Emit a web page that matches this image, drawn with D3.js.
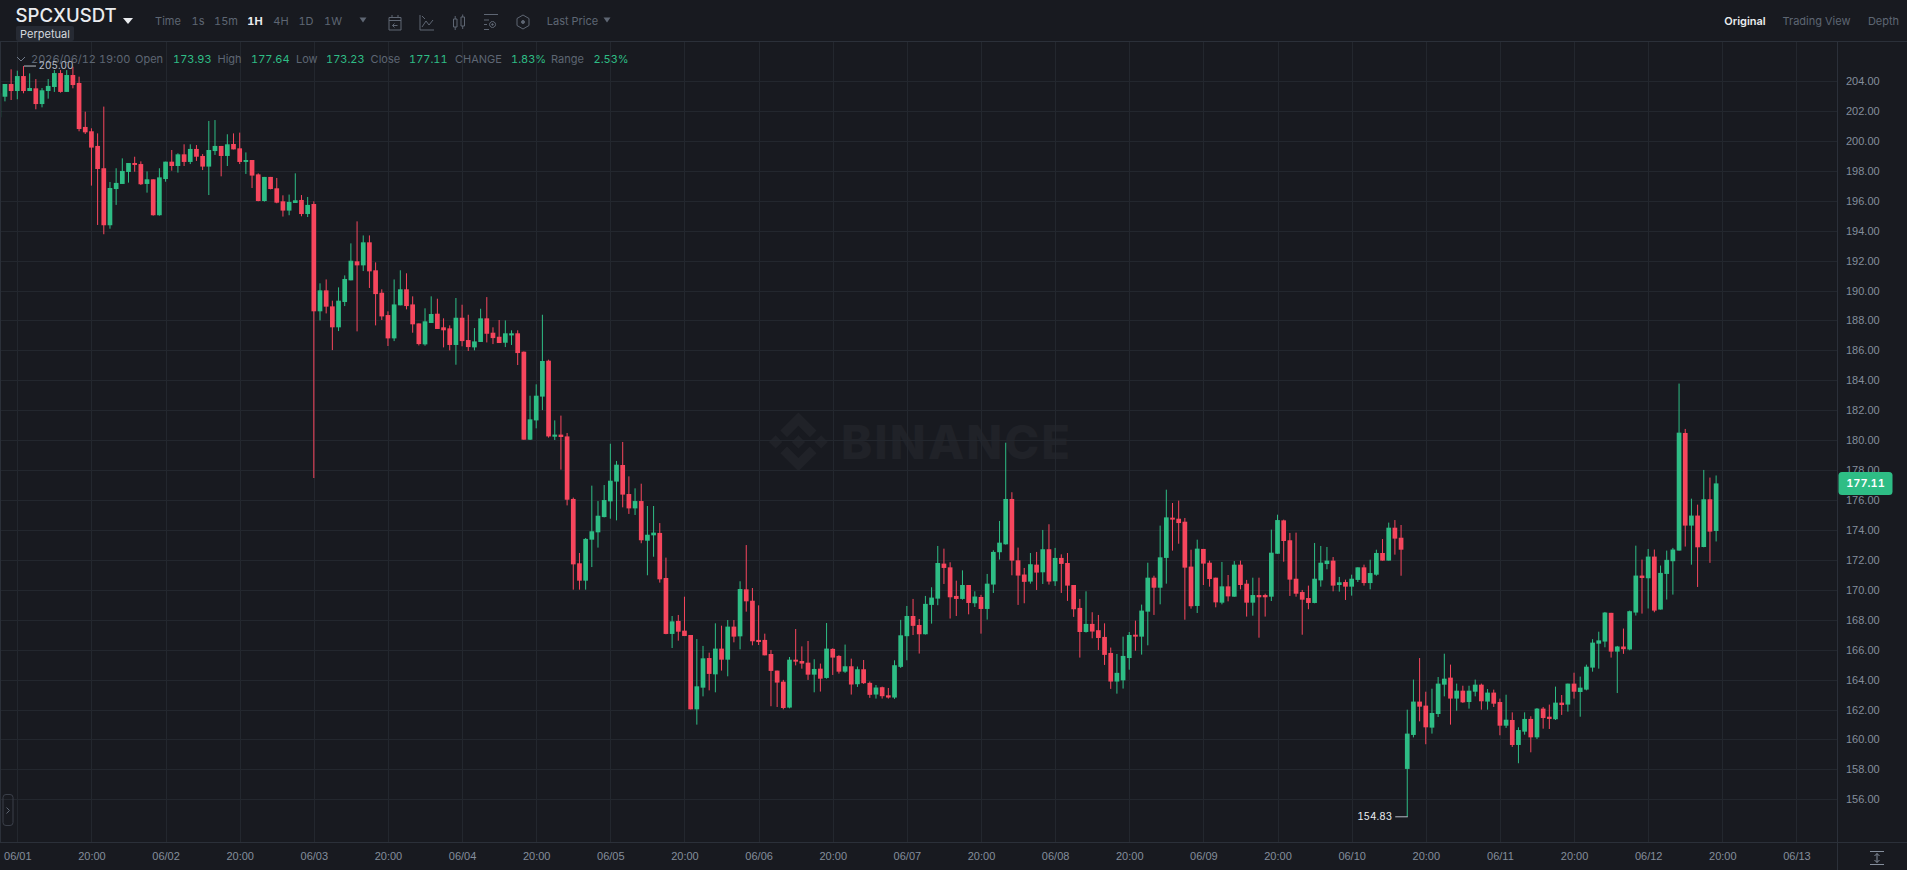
<!DOCTYPE html>
<html>
<head>
<meta charset="utf-8">
<title>SPCXUSDT Perpetual 1H</title>
<script src="https://cdn.jsdelivr.net/npm/d3@7/dist/d3.min.js"></script>
<style>
  html, body { margin: 0; padding: 0; background: #181a20; overflow: hidden; }
  svg { display: block; font-family: Inter, "Noto Sans", Roboto, sans-serif; font-variant-numeric: tabular-nums; }
  .candle rect { shape-rendering: auto; }
  .grid line { stroke: #23272e; stroke-width: 1; shape-rendering: crispEdges; }
  .grid .domain { display: none; }
  .axis .domain, .axis line { display: none; }
  .axis text { fill: #848e9c; font-size: 11px; }
</style>
</head>
<body>
<script>
// Hourly candles, first bar 2026-06-01 05:00, last bar 2026-06-12 19:00
const firstBarHour = Date.UTC(2026, 5, 1, 5);

const opens = [
201.57,202.95,203.80,203.33,204.33,203.33,203.51,202.46,203.33,203.60,
204.53,203.27,204.40,203.87,200.93,200.64,199.66,198.17,194.36,196.78,
197.12,197.92,198.52,198.45,197.12,197.43,195.03,197.45,198.61,198.32,
199.10,198.59,199.46,198.99,198.28,199.32,199.66,198.99,199.79,199.50,
198.59,198.72,197.76,195.98,197.59,196.83,195.96,195.34,195.85,196.05,
195.11,195.78,188.61,190.01,188.94,187.54,189.23,190.68,191.95,191.68,
193.22,191.35,189.85,188.36,186.80,189.01,190.08,189.07,187.80,186.40,
187.83,188.45,187.54,187.47,186.36,188.18,186.69,186.20,186.56,188.14,
187.18,186.91,186.51,187.00,187.14,185.91,180.03,181.32,182.91,185.31,
180.23,180.37,180.25,176.07,171.77,170.61,173.35,173.84,174.86,175.91,
177.23,178.34,176.40,175.44,175.93,173.28,173.64,173.80,170.79,167.05,
167.92,167.27,166.98,162.01,163.46,165.44,164.35,166.07,165.33,167.54,
166.89,170.03,169.27,166.65,166.65,165.71,164.60,163.86,162.13,165.33,
165.24,165.13,164.33,164.73,164.11,166.05,165.58,164.53,164.89,163.69,
164.69,163.78,163.00,163.49,162.95,162.80,164.85,166.90,168.25,167.65,
167.03,168.99,169.41,171.75,171.50,169.59,169.39,170.32,169.10,169.52,
168.72,170.35,172.51,173.04,176.07,171.97,171.02,170.55,171.68,171.17,
172.71,170.57,172.13,171.79,170.32,168.79,167.18,167.72,167.30,166.85,
165.78,163.87,163.95,165.44,167.00,166.87,168.54,170.81,170.14,172.13,
174.82,174.75,174.55,171.55,168.92,172.73,171.81,170.81,169.14,170.23,
169.54,171.68,170.41,169.14,169.65,169.65,169.54,172.41,174.64,173.31,
170.74,169.85,169.45,169.12,170.63,171.72,171.95,170.32,170.52,170.21,
170.66,171.50,170.45,171.01,172.46,171.95,174.15,173.48,158.03,160.30,
162.53,162.26,160.79,161.70,163.66,164.13,162.73,163.26,162.50,163.19,
163.66,162.53,163.13,162.50,160.92,161.30,159.63,160.52,161.37,160.14,
162.06,161.52,161.35,162.46,162.33,163.73,163.17,163.33,164.80,166.40,
166.54,168.46,165.87,166.21,166.01,168.48,170.95,170.77,172.22,168.68,
171.06,171.91,172.62,180.48,174.29,174.96,172.86,176.05,173.93
];

const highs = [
203.18,203.80,204.78,204.69,205.00,204.51,204.13,203.53,204.13,204.73,
204.73,204.73,204.96,204.29,201.95,200.84,200.50,202.29,197.25,198.17,
198.83,198.52,198.94,198.63,197.96,197.43,198.17,198.61,199.39,199.17,
199.77,199.77,199.72,199.12,201.33,201.39,199.66,200.44,200.50,200.55,
199.23,198.72,197.83,197.59,197.59,197.52,196.36,196.41,197.83,196.38,
196.25,195.96,190.48,190.74,189.32,190.21,191.01,193.15,194.62,193.68,
193.68,191.88,190.08,188.61,190.74,191.35,191.15,189.61,187.80,188.81,
189.61,189.45,188.14,187.67,189.50,189.05,188.38,187.49,188.78,189.56,
187.54,188.03,188.00,187.34,187.34,185.93,182.97,183.73,188.38,185.38,
181.32,181.64,180.48,176.16,172.46,173.46,176.96,175.93,177.00,179.76,
178.61,179.88,177.58,176.78,177.09,175.60,175.60,174.46,172.15,168.25,
168.32,169.54,166.98,166.71,166.25,165.80,167.76,167.60,167.98,167.98,
170.57,172.99,170.12,168.96,167.07,165.98,164.60,163.98,165.51,167.38,
166.22,166.58,165.36,165.07,167.78,166.09,165.63,166.34,165.40,164.87,
165.31,163.87,163.64,163.53,163.44,165.29,167.99,168.92,169.39,168.05,
169.59,170.17,172.93,172.75,171.84,170.61,171.30,170.32,169.90,169.66,
171.06,172.64,174.60,179.83,176.52,172.82,171.46,172.46,172.53,174.00,
174.38,172.80,172.37,172.46,170.32,169.39,169.90,168.50,168.32,167.76,
166.14,165.71,166.87,167.18,167.94,169.01,171.81,170.94,174.29,176.69,
175.80,175.96,174.80,172.68,173.35,172.73,171.95,170.81,171.86,170.99,
171.92,171.95,170.66,170.81,170.81,169.74,174.02,175.02,174.69,173.80,
173.82,169.99,170.28,173.13,172.93,172.86,172.19,170.86,170.68,171.01,
171.50,171.68,172.01,172.68,173.39,174.49,174.66,174.33,161.99,164.00,
165.44,163.19,163.39,164.17,165.73,165.00,163.73,163.59,163.59,164.00,
163.73,163.37,163.33,162.73,162.99,161.81,160.81,161.81,161.55,162.10,
162.17,162.33,163.53,162.97,163.73,164.46,164.20,165.00,166.70,167.20,
168.52,168.46,166.25,167.41,168.61,172.95,172.02,172.73,172.69,171.62,
172.62,172.80,183.78,180.75,176.09,175.69,178.01,177.50,177.64
];

const lows = [
201.57,202.64,202.73,202.78,203.18,203.33,202.11,202.24,202.82,203.27,
203.22,203.27,203.51,200.64,200.46,197.01,194.38,193.76,194.13,195.72,
197.12,197.21,197.94,197.05,196.54,195.00,195.00,197.27,198.01,197.88,
198.32,198.45,198.66,198.05,196.38,199.06,197.63,198.32,199.43,198.45,
197.79,196.85,195.96,195.94,196.76,195.83,194.94,195.03,195.85,194.96,
194.91,177.47,188.00,188.47,186.02,187.29,188.96,190.68,187.27,191.30,
190.17,187.67,188.03,186.29,186.62,189.01,188.74,187.18,186.33,186.31,
187.83,187.43,186.20,186.00,185.04,186.27,185.96,186.00,186.56,186.53,
186.42,186.49,186.22,186.36,185.02,180.03,180.01,180.79,182.01,180.17,
180.01,178.03,175.64,170.01,170.01,170.01,171.52,172.82,174.84,174.75,
174.64,175.51,175.07,175.00,173.11,170.97,172.21,170.48,167.03,166.11,
166.60,166.91,162.01,160.99,162.88,163.28,163.15,164.60,164.22,166.49,
166.02,168.54,166.29,166.31,165.62,162.22,162.17,162.01,162.08,164.95,
164.73,163.98,163.15,163.20,164.06,164.31,164.40,164.45,163.00,163.51,
163.71,162.78,162.73,162.73,162.73,162.71,164.78,165.29,166.98,165.74,
167.01,167.74,168.97,170.39,168.08,168.25,169.34,168.36,168.85,167.07,
168.01,169.79,172.02,173.02,170.97,168.99,169.10,170.41,169.99,170.39,
170.35,170.26,169.79,169.26,168.19,165.47,167.14,166.76,165.98,164.98,
163.38,163.06,163.40,164.66,165.93,165.67,166.29,168.32,169.03,170.41,
172.62,173.08,168.00,168.74,168.45,170.32,170.21,168.83,169.03,169.23,
169.54,170.03,168.21,168.27,166.80,168.21,169.25,172.41,171.88,169.59,
169.54,167.00,168.70,169.10,170.21,171.37,169.90,169.88,169.32,169.61,
170.52,170.28,170.03,170.94,171.95,171.95,172.35,170.94,154.83,160.14,
161.21,159.68,160.39,161.50,162.88,160.99,161.92,162.44,162.06,162.88,
161.99,161.99,162.17,160.28,160.77,159.50,158.41,160.32,159.14,160.03,
160.72,160.70,161.30,161.64,161.86,162.73,161.52,163.28,164.53,164.73,
166.16,165.47,163.10,165.72,165.96,168.28,168.41,168.75,168.50,168.68,
169.35,169.68,172.62,172.89,171.68,170.19,172.84,171.80,173.23
];

const closes = [
203.18,203.80,203.33,204.33,203.33,203.53,202.46,203.38,203.67,204.53,
203.27,204.40,203.73,200.79,200.57,199.55,198.12,194.36,196.85,197.19,
197.99,198.52,198.39,197.10,197.43,195.03,197.56,198.61,198.32,199.10,
198.59,199.46,198.94,198.28,199.39,199.66,198.99,199.77,199.43,198.59,
198.72,197.68,195.98,197.59,196.78,195.87,195.34,195.92,196.03,195.11,
195.72,188.61,190.01,188.92,187.54,189.32,190.77,191.99,191.68,193.22,
191.28,189.76,188.27,186.80,189.07,190.08,188.96,187.74,186.42,187.94,
188.43,187.43,187.34,186.36,188.18,186.62,186.22,186.60,188.14,187.11,
186.82,186.49,187.14,187.14,185.82,180.03,181.39,182.97,185.29,180.25,
180.37,180.21,176.02,171.70,170.61,173.40,173.91,174.95,176.00,177.29,
178.36,176.36,175.44,175.93,173.31,173.68,173.82,170.70,167.05,167.89,
167.20,166.91,162.01,163.55,165.42,164.38,166.07,165.33,167.54,166.87,
170.05,169.23,166.56,166.51,165.62,164.58,163.80,162.10,165.33,165.20,
165.07,164.33,164.71,164.06,166.07,165.47,164.53,164.89,163.67,164.69,
163.76,162.98,163.47,162.89,162.80,164.96,166.96,168.25,167.59,167.03,
169.06,169.48,171.79,171.46,169.50,169.39,170.32,169.12,169.55,168.72,
170.41,172.53,173.15,176.07,171.95,170.95,170.53,171.71,171.15,172.71,
170.55,172.13,171.73,170.28,168.70,167.18,167.72,167.21,166.78,165.65,
163.87,164.45,165.58,166.98,166.87,168.61,170.81,170.14,172.17,174.84,
174.69,174.46,171.48,168.90,172.75,171.75,170.72,169.16,170.23,169.56,
171.68,170.32,169.14,169.65,169.50,169.50,172.48,174.66,173.26,170.68,
169.74,169.34,169.12,170.74,171.81,171.95,170.28,170.50,170.21,170.74,
171.50,170.45,171.12,172.46,171.95,174.15,173.42,172.68,160.39,162.53,
162.19,160.81,161.77,163.73,164.06,162.73,163.26,162.48,163.26,163.66,
162.55,163.13,162.39,160.92,161.32,159.63,160.63,161.37,160.14,162.06,
161.43,161.37,162.46,162.30,163.73,163.19,163.46,164.86,166.47,166.62,
168.48,165.87,166.21,166.03,168.57,170.95,170.79,172.22,168.61,171.13,
172.00,172.69,180.50,174.29,174.96,172.84,176.05,173.89,177.11
];

const priceTicks = [204,202,200,198,196,194,192,190,188,186,184,182,180,178,176,174,172,170,168,166,164,162,160,158,156];
const timeTickDays = [1,2,3,4,5,6,7,8,9,10,11,12,13];
const toolbarLabels = ["Time", "1s", "15m", "1H", "4H", "1D", "1W"];
const activeInterval = "1H";
const viewLabels = ["Original", "Trading View", "Depth"];
const symbolName = "SPCXUSDT";
const statLabels = ["Open", "High", "Low", "Close", "CHANGE", "Range"];
const statValues = ["173.93", "177.64", "173.23", "177.11", "1.83%", "2.53%"];
const barTimeLabel = "2026/06/12 19:00";
const highestPrice = 205.00;
const lowestPrice = 154.83;
const lastPrice = 177.11;

const W = 1907, H = 870;
const plot = { left: 0, right: 1837, top: 41, bottom: 842 };
const UP = "#2ebd85", DOWN = "#f6465d";
const HOUR = 3600000;

const bars = opens.map((o, i) => ({
  t: new Date(firstBarHour + i * HOUR), o, h: highs[i], l: lows[i], c: closes[i]
}));

const svg = d3.select("body").append("svg").attr("width", W).attr("height", H);
svg.append("rect").attr("width", W).attr("height", H).attr("fill", "#181a20");

// Price and time scales, anchored on known tick pairs
const y = d3.scaleLinear().domain([204, 156]).range([81.0, 799.3]);
const anchorA = Date.UTC(2026, 5, 1, 8), anchorB = Date.UTC(2026, 5, 12, 20);
const x = d3.scaleUtc().domain([anchorA, anchorB]).range([17.3, 1722.3]);
const hourStep = x(anchorA + HOUR) - x(anchorA);
const bodyWidth = hourStep * 0.76;

const clipId = "plot-clip";
svg.append("clipPath").attr("id", clipId).append("rect")
  .attr("x", plot.left).attr("y", plot.top)
  .attr("width", plot.right - plot.left).attr("height", plot.bottom - plot.top);

// Faint exchange watermark behind the grid
const wm = svg.append("g").attr("fill", "#202228");
const logo = wm.append("g").attr("transform", "translate(769,412.5) scale(0.4645)");
[
  "38.73,53.2 63.32,28.62 87.92,53.22 102.22,38.91 63.32,0 24.43,38.9",
  "0,63.31 14.3,49.01 28.61,63.31 14.3,77.61",
  "49.04,63.3 63.32,49.02 77.63,63.31 63.32,77.61",
  "98,63.31 112.31,49 126.61,63.31 112.31,77.62",
  "38.73,73.41 63.32,97.99 87.92,73.39 102.23,87.68 63.32,126.61 24.43,87.7"
].forEach(p => logo.append("polygon").attr("points", p));
wm.append("text").attr("x", 841).attr("y", 459)
  .attr("font-size", 47).attr("font-weight", 800)
  .attr("textLength", 229).attr("lengthAdjust", "spacing")
  .text("BINANCE");

// Grid lines come from the axis tick generators
const timeTicks = [];
timeTickDays.forEach(d => {
  timeTicks.push(new Date(Date.UTC(2026, 5, d, 8)));
  if (d < 13) timeTicks.push(new Date(Date.UTC(2026, 5, d, 20)));
});
const pad = n => String(n).padStart(2, "0");
const timeFormat = t => t.getUTCHours() === 20
  ? "20:00"
  : pad(t.getUTCMonth() + 1) + "/" + pad(t.getUTCDate());

svg.append("g").attr("class", "grid")
  .attr("transform", `translate(${plot.right},0)`)
  .call(d3.axisLeft(y).tickValues(priceTicks).tickSize(plot.right - plot.left).tickFormat(""));
svg.append("g").attr("class", "grid")
  .attr("transform", `translate(0,${plot.bottom})`)
  .call(d3.axisTop(x).tickValues(timeTicks).tickSize(plot.bottom - plot.top).tickFormat(""));

// Candles
const marks = svg.append("g").attr("clip-path", `url(#${clipId})`);
const candle = marks.selectAll("g.candle").data(bars).join("g").attr("class", "candle")
  .attr("fill", d => d.c >= d.o ? UP : DOWN);
candle.append("rect")
  .attr("x", d => x(d.t) - 0.5).attr("width", 1)
  .attr("y", d => y(d.h)).attr("height", d => y(d.l) - y(d.h));
candle.append("rect")
  .attr("x", d => x(d.t) - bodyWidth / 2).attr("width", bodyWidth)
  .attr("y", d => y(Math.max(d.o, d.c)))
  .attr("height", d => Math.max(1, Math.abs(y(d.o) - y(d.c))));

// Frame lines around the plot
const frame = svg.append("g").attr("stroke", "#2b3039").attr("shape-rendering", "crispEdges");
frame.append("line").attr("x1", 0).attr("x2", W).attr("y1", 41).attr("y2", 41);
frame.append("line").attr("x1", 0).attr("x2", W).attr("y1", plot.bottom).attr("y2", plot.bottom);
frame.append("line").attr("x1", plot.right).attr("x2", plot.right).attr("y1", 41).attr("y2", H);
frame.append("line").attr("x1", 0.5).attr("x2", 0.5).attr("y1", 41).attr("y2", plot.bottom);

// Axes
svg.append("g").attr("class", "axis")
  .attr("transform", `translate(${plot.right},0)`)
  .call(d3.axisRight(y).tickValues(priceTicks).tickSize(0).tickPadding(9).tickFormat(d => d.toFixed(2)));
svg.append("g").attr("class", "axis")
  .attr("transform", `translate(0,${plot.bottom})`)
  .call(d3.axisBottom(x).tickValues(timeTicks).tickSize(0).tickPadding(10).tickFormat(timeFormat));

// Header bar: symbol, contract tag, interval buttons, chart tools
const label = (text, px, py, opts = {}) => svg.append("text")
  .attr("x", px).attr("y", py).attr("dy", "0.35em")
  .attr("text-anchor", opts.anchor || "start")
  .attr("font-size", opts.size || 11)
  .attr("font-weight", opts.weight || 400)
  .attr("fill", opts.fill || "#848e9c")
  .text(text);
const triangle = (cx, cy, w, h, fill) => svg.append("path")
  .attr("d", `M${cx - w / 2},${cy - h / 2}H${cx + w / 2}L${cx},${cy + h / 2}Z`).attr("fill", fill);

label(symbolName, 15.5, 15.5, { size: 18.6, weight: 500, fill: "#eaecef" });
triangle(128, 21, 10, 6, "#eaecef");
svg.append("rect").attr("x", 16).attr("y", 26).attr("width", 58).attr("height", 15).attr("rx", 2).attr("fill", "#262a33");
label("Perpetual", 45, 34, { anchor: "middle", size: 11, fill: "#d5d9df" });

const toolbarCentres = [168, 198, 226, 255, 281, 306, 333];
toolbarLabels.forEach((t, i) => {
  const on = t === activeInterval;
  label(t, toolbarCentres[i], 21, { anchor: "middle", size: 11, weight: on ? 700 : 400, fill: on ? "#eaecef" : "#5e6673" });
});
triangle(363, 20, 7, 5, "#5e6673");
triangle(607, 20, 7, 5, "#5e6673");
label("Last Price", 572.5, 21, { anchor: "middle", size: 11, fill: "#5e6673" });

const tools = svg.append("g").attr("fill", "none").attr("stroke", "#5e6673").attr("stroke-width", 1);
// calendar
tools.append("path").attr("d", "M389,17.5H401V30H389ZM389,20.5H401M392,15V18M398,15V18M397.5,25.5H392.5M394.5,23.5L392.5,25.5L394.5,27.5");
// line chart
tools.append("path").attr("d", "M420,15V30H434M422,27L426,21L429,25L433,20M422,16L425,19");
// candle pair
tools.append("path").attr("d", "M453.5,19H457V27H453.5ZM455.2,16V19M455.2,27V30M461,17H464.5V26H461ZM462.7,14.5V17M462.7,26V29");
// indicator settings
tools.append("path").attr("d", "M484,14.5H498M484,20H489M484,24.5H487M484,29.5H489M492.5,21.5A3,3 0 1 0 492.6,21.5");
tools.append("circle").attr("cx", 492.5).attr("cy", 24.5).attr("r", 0.8).attr("fill", "#5e6673");
// hexagon settings
tools.append("path").attr("d", "M523,15L529,18.5V25.5L523,29L517,25.5V18.5Z");
tools.append("circle").attr("cx", 523).attr("cy", 22).attr("r", 1.5).attr("fill", "#5e6673");

const viewCentres = [1745, 1816.5, 1883.5];
viewLabels.forEach((t, i) => label(t, viewCentres[i], 21, {
  anchor: "middle", size: 11, weight: i === 0 ? 600 : 400, fill: i === 0 ? "#eaecef" : "#5e6673"
}));

// Bar summary row
svg.append("path").attr("d", "M17,57L21,61L25,57").attr("fill", "none").attr("stroke", "#707a8a");
label(barTimeLabel, 31, 59, { fill: "#5e6673" });
const statLabelX = [135, 217.5, 296, 370.6, 455, 551];
const statValueX = [173, 251, 326, 409, 511, 593.5];
statLabels.forEach((t, i) => {
  label(t, statLabelX[i], 59, { fill: "#5e6673" });
  label(statValues[i], statValueX[i], 59, { fill: UP });
});

// Highest and lowest price callouts
const highY = y(highestPrice), lowY = y(lowestPrice);
const highBar = bars[highs.indexOf(highestPrice)];
const lowBar = bars[lows.indexOf(lowestPrice)];
svg.append("line").attr("x1", x(highBar.t) + 0.5).attr("x2", x(highBar.t) + 12.5)
  .attr("y1", highY).attr("y2", highY).attr("stroke", "#b7bdc6");
label(highestPrice.toFixed(2), x(highBar.t) + 15, highY - 0.5, { size: 10, fill: "#b7bdc6" });
svg.append("line").attr("x1", x(lowBar.t) + 0.5).attr("x2", x(lowBar.t) - 12)
  .attr("y1", lowY).attr("y2", lowY).attr("stroke", "#b7bdc6");
label(lowestPrice.toFixed(2), x(lowBar.t) - 15, lowY, { anchor: "end", size: 10, fill: "#eaecef" });

// Last price tag on the price axis
svg.append("rect").attr("x", 1838.5).attr("y", y(lastPrice) - 11.5)
  .attr("width", 54).attr("height", 23).attr("rx", 3.5).attr("fill", "#2ebd85");
label(lastPrice.toFixed(2), 1865.5, y(lastPrice), { anchor: "middle", weight: 600, fill: "#ffffff" });

// Side panel handle and axis fit control
svg.append("rect").attr("x", 3).attr("y", 794.5).attr("width", 10).attr("height", 31).attr("rx", 3)
  .attr("fill", "none").attr("stroke", "#3a3f49");
svg.append("path").attr("d", "M6.5,807.5L9.5,810.5L6.5,813.5").attr("fill", "none").attr("stroke", "#5e6673");
svg.append("path").attr("d", "M1870,851.5H1884M1870,864.5H1884M1877,853.5V862.5M1874.5,856L1877,853.5L1879.5,856M1874.5,860L1877,862.5L1879.5,860")
  .attr("fill", "none").attr("stroke", "#848e9c");
</script>
</body>
</html>
